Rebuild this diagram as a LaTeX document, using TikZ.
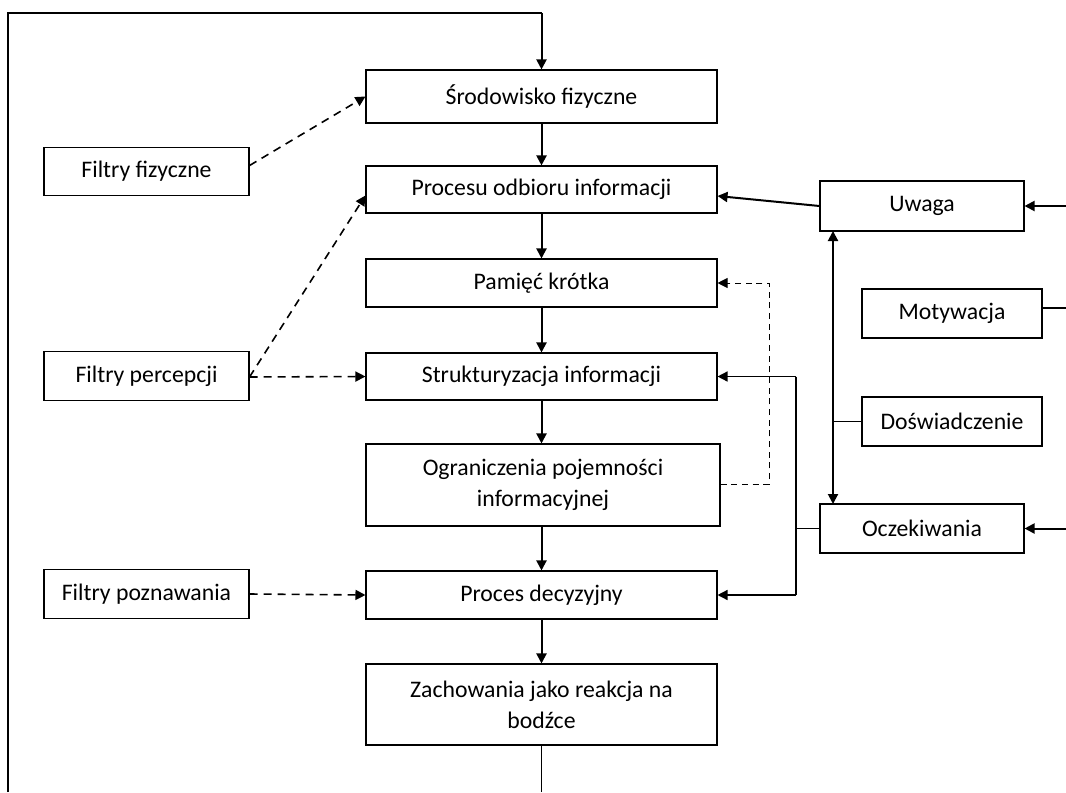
\documentclass[tikz,border=0pt]{standalone}
\usepackage{fontspec}
\setmainfont{Carlito}
\usetikzlibrary{arrows.meta,calc}
\begin{document}
\begin{tikzpicture}[x=0.75pt,y=-0.75pt,
  box/.style={draw, line width=0.8pt, align=center, inner sep=0pt,
    font=\fontsize{17.8}{23}\selectfont},
  main/.style={box, minimum width=263.25pt},
  side/.style={box, minimum width=153.75pt, minimum height=36.5pt},
  arr/.style={line width=1.5pt, -{Triangle[length=7.5pt,width=7.5pt]}},
  darr/.style={line width=1.2pt, dash pattern=on 6pt off 4.5pt, -{Triangle[length=7.5pt,width=7.5pt]}},
  tdarr/.style={line width=0.75pt, dash pattern=on 4.5pt off 3.5pt, -{Triangle[length=7.5pt,width=7.5pt]}},
  thin/.style={line width=0.8pt},
]
\useasboundingbox (0,0) rectangle (1066,792);
% main column
\node[main, minimum height=39.75pt] (srod) at (541.5,96.5) {Środowisko fizyczne};
\node[main, minimum height=35.25pt] (proc) at (541.5,189.5) {Procesu odbioru informacji};
\node[main, minimum height=36pt] (pam) at (541.5,283) {Pamięć krótka};
\node[main, minimum height=35.25pt] (strk) at (541.5,376.5) {Strukturyzacja informacji};
\node[box, minimum width=265.5pt, minimum height=61.5pt] (ogr) at (543,485) {Ograniczenia pojemności\\informacyjnej};
\node[main, minimum height=36pt] (dec) at (541.5,595) {Proces decyzyjny};
\node[main, minimum height=60.75pt] (zach) at (541.5,704.5) {Zachowania jako reakcja na\\bodźce};
% filters
\node[side] (ffiz) at (146.5,171.5) {Filtry fizyczne};
\node[side] (fper) at (146.5,376) {Filtry percepcji};
\node[side] (fpoz) at (146.5,594) {Filtry poznawania};
% right column
\node[box, minimum width=153pt, minimum height=37.5pt] (uwaga) at (922,206) {Uwaga};
\node[box, minimum width=135pt, minimum height=36.75pt] (mot) at (952,313.5) {Motywacja};
\node[box, minimum width=135pt, minimum height=36.75pt] (dosw) at (952,421.5) {Doświadczenie};
\node[box, minimum width=153pt, minimum height=36.75pt] (ocz) at (922,528.5) {Oczekiwania};
% coordinates
\coordinate (fbl) at (8,792);
\coordinate (ftl) at (8,13);
\coordinate (ftr) at (541.5,13);
\coordinate (zb) at (541.5,792);
\coordinate (eu) at (1066,206);
\coordinate (em) at (1066,308);
\coordinate (eo) at (1066,528.5);
\coordinate (vu) at (833,231);
\coordinate (vo) at (833,504);
\coordinate (vd) at (833,421.5);
\coordinate (bt) at (796,376.5);
\coordinate (bm) at (796,528.5);
\coordinate (bb) at (796,595);
\coordinate (dr) at (769,484);
% frame loop
\draw[thin] (fbl) -- (ftl) -- (ftr);
\draw[arr] (ftr) -- (srod.north);
\draw[thin] (zach.south) -- (zb);
% main flow
\draw[arr] (srod) -- (proc);
\draw[arr] (proc) -- (pam);
\draw[arr] (pam) -- (strk);
\draw[arr] (strk.south) -- (strk.south |- ogr.north);
\draw[arr] (dec.north |- ogr.south) -- (dec.north);
\draw[arr] (dec) -- (zach);
% filters
\draw[darr] ($(ffiz.east)+(0,-6)$) -- (srod.west);
\draw[darr] ($(fper.east)+(0,1)$) -- ($(proc.west)+(0,6)$);
\draw[darr] ($(fper.east)+(0,1)$) -- (strk.west);
\draw[darr] (fpoz.east) -- (dec.west);
% dashed feedback
\draw[tdarr] (ogr.east |- dr) -- (dr) |- (pam.east);
% right side
\draw[arr] (uwaga.west) -- ($(proc.east)+(0,6.5)$);
\draw[arr] (eu) -- (uwaga.east);
\draw[thin] (mot.east |- em) -- (em);
\draw[arr] (eo) -- (ocz.east);
\draw[line width=1.5pt, {Triangle[length=7.5pt,width=7.5pt]}-{Triangle[length=7.5pt,width=7.5pt]}] (vu) -- (vo);
\draw[thin] (dosw.west) -- (vd);
\draw[thin] (ocz.west) -- (bm);
\draw[thin] (bt) -- (bb);
\draw[arr, line width=1.1pt] (bt) -- (strk.east);
\draw[arr, line width=1.1pt] (bb) -- (dec.east);
\end{tikzpicture}
\end{document}
